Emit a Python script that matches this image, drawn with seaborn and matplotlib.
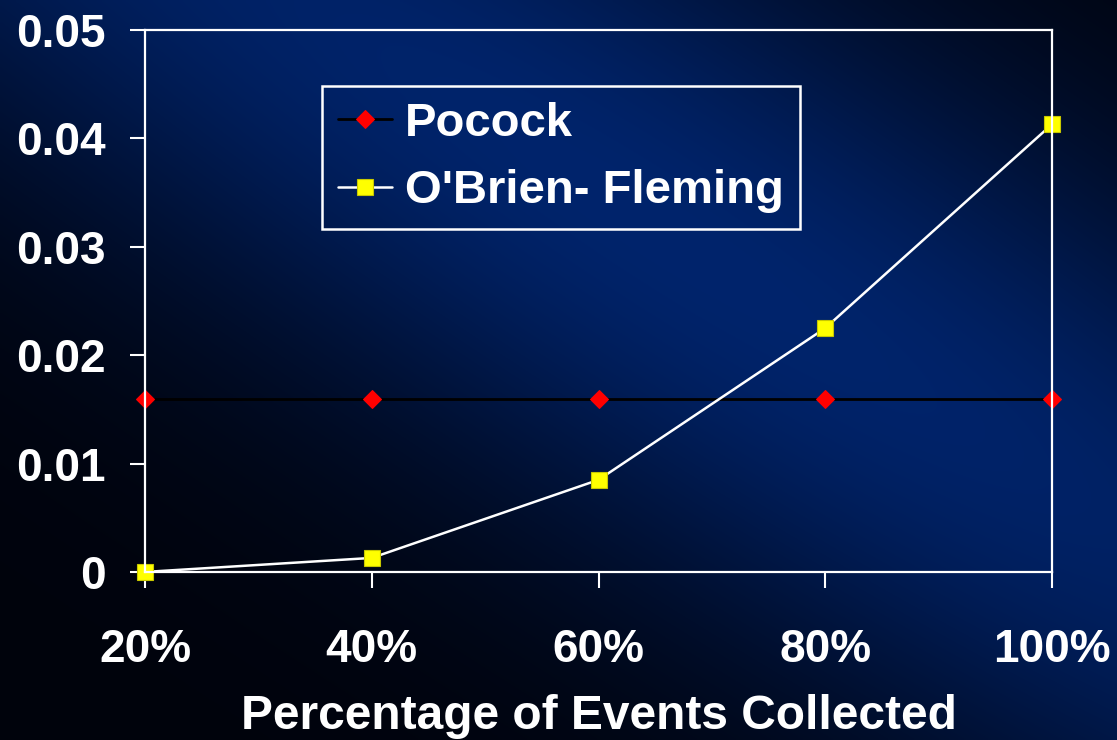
import numpy as np
import pandas as pd
import matplotlib
matplotlib.use("Agg")
import matplotlib.pyplot as plt
import seaborn as sns

# ---- data ----
percent_collected = [20, 40, 60, 80, 100]
x_tick_labels = ["20%", "40%", "60%", "80%", "100%"]
pocock = [0.016, 0.016, 0.016, 0.016, 0.016]
obrien_fleming = [0.000005, 0.0013, 0.0085, 0.0225, 0.0413]
y_ticks = [0, 0.01, 0.02, 0.03, 0.04, 0.05]
y_tick_labels = ["0", "0.01", "0.02", "0.03", "0.04", "0.05"]
series_names = ["Pocock", "O'Brien- Fleming"]
x_label = "Percentage of Events Collected"

sns.set_theme(style="white")
plt.rcParams["font.family"] = ["Liberation Sans", "DejaVu Sans"]
plt.rcParams["font.weight"] = "bold"

W, H = 1117, 740
fig = plt.figure(figsize=(W / 100, H / 100), dpi=100)
fig.patch.set_facecolor("#000510")

# ---- background gradient ----
bg = fig.add_axes([0, 0, 1, 1], zorder=-10)
u = np.linspace(0, 1, 400)[None, :]
v = np.linspace(0, 1, 270)[:, None]
d = (u - v) - 0.28
b = np.exp(-(d ** 2) / (2 * 0.35 ** 2))
b = b * (1 - 0.25 * ((u - 0.6) ** 2 + (v - 0.3) ** 2))
top = np.array([0, 36, 108]) / 255.0
floor = np.array([0, 3, 12]) / 255.0
img = floor[None, None, :] + (top - floor)[None, None, :] * b[:, :, None]
bg.imshow(np.clip(img, 0, 1), aspect="auto", extent=[0, 1, 0, 1], interpolation="bilinear")
bg.axis("off")

# ---- main axes ----
ax = fig.add_axes([145 / W, 1 - 572 / H, (1052 - 145) / W, (572 - 30) / H])
ax.set_facecolor("none")

df = pd.DataFrame({"x": percent_collected, "pocock": pocock, "obf": obrien_fleming})

sns.lineplot(data=df, x="x", y="pocock", ax=ax, color="black", lw=2,
             marker="D", markersize=9, markerfacecolor="#ff0000",
             markeredgecolor="#ff0000", label=series_names[0])
sns.lineplot(data=df, x="x", y="obf", ax=ax, color="white", lw=1.8,
             marker="s", markersize=11, markerfacecolor="#ffff00",
             markeredgecolor="#c8c800", markeredgewidth=0.8,
             label=series_names[1])
for ln in ax.lines:
    ln.set_clip_on(False)

ax.set_xlim(20, 100)
ax.set_ylim(0, 0.05)
ax.set_xticks(percent_collected)
ax.set_xticklabels(x_tick_labels)
ax.set_yticks(y_ticks)
ax.set_yticklabels(y_tick_labels)

for s in ax.spines.values():
    s.set_visible(True)
    s.set_color("white")
    s.set_linewidth(1.6)

ax.tick_params(axis="y", direction="out", length=11, width=1.5, color="white",
               pad=17, labelsize=33, labelcolor="white", left=True)
ax.tick_params(axis="x", direction="out", length=11.5, width=1.5, color="white",
               pad=29, labelsize=33, labelcolor="white", bottom=True)
for lab in ax.get_xticklabels() + ax.get_yticklabels():
    lab.set_fontweight("bold")

ax.set_xlabel(x_label, fontsize=34.5, fontweight="bold", color="white", labelpad=16)
ax.set_ylabel("")

leg = ax.legend(loc="upper left", bbox_to_anchor=(322 / W, 1 - 86 / H),
                bbox_transform=fig.transFigure, frameon=True, fancybox=False,
                framealpha=1,
                prop={"size": 34, "weight": "bold"}, handlelength=1.15,
                handletextpad=0.28, labelspacing=0.5, borderpad=0.33,
                borderaxespad=0)
leg.get_frame().set_facecolor("none")
leg.get_frame().set_edgecolor("white")
leg.get_frame().set_linewidth(1.8)
for t in leg.get_texts():
    t.set_color("white")

fig.savefig("out.png", dpi=100, facecolor=fig.get_facecolor())
